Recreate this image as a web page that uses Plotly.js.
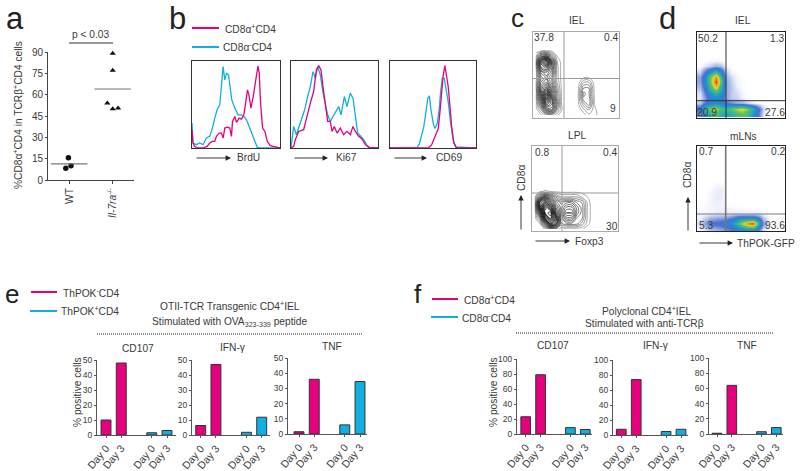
<!DOCTYPE html>
<html><head><meta charset="utf-8">
<script src="https://cdn.plot.ly/plotly-3.0.1.min.js"></script>
<style>html,body{margin:0;padding:0;background:#fff}</style></head>
<body><div id="chart" style="width:800px;height:471px"></div>
<script>
// ---------- Panel a ----------
const wtX=[0.98,1.04,0.92], wtY=[15.7,10,8.2], wtMean=11.3;
const koX=[2,2,1.876,2,2.124], koY=[89,77,54,50,50.5], koMean=64;
const aTicks=[0,15,30,45,60,75,90];
// ---------- Panel b: histograms (channel, count) ----------
const brduPinkX=[0,3,8,18,33,45,53,61,68,73,81,88,93,98,105,113,118,121,128,133,141,148,155,161,166,171,176,183,189,193,197,201,205,211,218,225,233,243,263];
const brduPinkY=[55,15,5,0,0,5,15,20,20,35,45,45,30,60,63,60,35,80,95,77,90,87,100,135,175,155,120,155,195,225,247,225,135,60,50,20,8,5,0];
const brduBlueX=[0,3,13,23,33,43,53,61,68,75,83,89,93,98,103,109,113,119,128,138,148,158,165,173,181,189,195,203,263];
const brduBlueY=[75,15,10,15,10,30,35,60,90,115,130,210,245,205,225,220,185,145,120,100,100,93,80,60,35,15,2,0,0];
const ki67PinkX=[0,8,13,23,38,48,58,68,76,83,90,96,103,110,118,123,130,138,148,158,168,178,186,193,203,213,223,233,261];
const ki67PinkY=[0,5,25,50,55,100,135,170,235,248,235,185,125,80,80,50,65,45,60,40,50,40,65,50,35,27,10,2,0];
const ki67BlueX=[0,8,16,23,33,41,50,58,66,73,80,88,96,103,110,118,126,135,143,150,160,168,178,186,193,200,208,218,228,238,261];
const ki67BlueY=[0,65,40,60,95,115,155,185,230,210,245,220,165,135,100,80,95,110,125,100,155,125,165,150,95,45,37,25,8,0,0];
const cd69PinkX=[0,116,126,136,146,151,156,161,166,171,176,181,186,193,201,260];
const cd69PinkY=[0,0,10,33,58,108,168,218,246,218,183,128,68,16,1,0];
const cd69BlueX=[0,81,89,96,102,108,114,119,124,131,136,143,149,153,158,164,169,176,183,191,198,260];
const cd69BlueY=[0,0,13,38,63,103,148,156,113,73,58,73,118,168,208,208,183,138,78,23,3,0];
// ---------- Panel c: contour densities ----------
const cIelX=[32,48,64,80,96,112,128,144,160,176,192,208,224,240,256,272];
const cIelY=[28,44,60,76,92,108,124,140,156,172,188,204,220,236,252,268];
const cIelZ=[[],[],[],
 [0,.3,.4,.2,0],[1,4,5,2.5,.4],[1.5,8,11,5.5,1],[1.5,7,8,5,1.2],[1,5,6,4.5,1.2],
 [1,4,5,3.5,1.2,0,0,0,0,.3,.3],[1.5,5,6,4,1.5,0,0,0,.1,1.6,1.6,.1],[1.5,6,8,5,2,0,0,0,.3,2.6,2.6,.2],
 [1,6,10,5.5,2.4,0,0,0,.4,3.4,2.6,.3],[.8,5,10,6.5,2.6,0,0,0,.4,3,3,.4],[.3,3.5,8,6.5,3,0,0,0,.3,1.8,3,.4],
 [0,1.5,5,5.5,2,.3,0,0,0,.8,1.6,.6],[0,.3,1.2,1.5,.5,0,0,0,0,.1,.8,.8]];
const cLplX=[28,44,60,76,92,108,124,140,156,172,188,204,220,236,252,268];
const cLplY=[26,42,58,74,90,106,122,138,154,170,186,202,218,234,250,266];
const cLplZ=[[],[],[],[],[],[],[],[],
 [0,.3,.5,.4,.3,.2,.2,.2,.2,.1],[.2,3.5,6,4,2.5,1.5,1.5,1.5,1.5,.8,.4],[.3,8,10,7,4.5,3.5,4,4,3,2.5,.7],
 [.1,8,13,10,6,4,5.5,5.5,4,2.8,.8],[0,5,12,13,7,4,6.5,6.5,4,2.8,.8],[0,2,9,12,8.5,3,5,5,3,2.6,.8],
 [0,.4,4,9,7,2.5,3,3,2.8,1.8,.6],[0,0,.5,2,2,1.2,.6,.6,.6,.5,0]];
// ---------- Panel d: pseudocolour densities ----------
const dIelX=[28,44,60,76,92,108,124,140,156,172,188,204,220,236,252,268];
const dIelY=[28,44,60,76,92,108,124,140,156,172,188,204,220,236,252,268];
const dIelZ=[[],[],[],[],[],
 [0,0,.1,.15,.1],[0,.3,.6,1,.8,.1],[.5,2,3.5,5,3,.6,.1],[1.2,3,6,9,5,1,.4,.12],
 [1.2,3,6,10,5.5,1.2,.5,.15,.05],[.8,2.4,5,7.5,4.5,1.2,.6,.25,.05],[.4,1.8,3.4,4.8,3.5,1.2,.6,.4,.15],
 [.3,1.3,2.6,3.2,2.6,1.2,.6,.5,.2,.05],[.7,2,2.8,3.4,2.8,2,1.6,1.2,1,.6,.2],
 [2.5,5,6.5,7,5.5,5,6,7,7.5,6.5,4.5,2.5,.6],[1.5,3.5,5,5.5,4.5,4,4.5,5.5,6,5.5,3.5,2,.4]];
const dLnX=[28,44,60,76,92,108,124,140,156,172,188,204,220,236,252,268];
const dLnY=[26,42,58,74,90,106,122,138,154,170,186,202,218,234,250,266];
const dLnZ=[[],[],[],[],[],[],[],
 [0,0,0,.12,.15],[0,0,.08,.2,.25],[0,0,.12,.25,.25],[0,0,.12,.2,.2],[0,.08,.12,.15,.15,.08,.08,.04,.04],
 [.08,.08,.15,.25,.25,.25,.25,.25,.25,.25,.25,.25,.08],[.2,.6,1,1.2,1.3,1.5,2,3,3.5,3.5,3.5,2.5,.8,.1],
 [.4,1.3,2,2.2,2.4,2.8,3.5,5,7,9,10,5.5,1.5,.1],[.1,.4,.8,1,1.2,1.5,2,2.5,3,3.5,3.5,2,.4]];
// ---------- Panels e, f: bars ----------
const dayPos=[0,1,3,4], dayLabels=['Day 0','Day 3','Day 0','Day 3'];
const eCd107=[10,48,1.5,3], eIfn=[6.5,47,2,12], eTnf=[1.5,36,6,34.5];
const fCd107=[23,79,8.5,6], fIfn=[8,74,5,8], fTnf=[1,64,3,8.5];
const eTicks=[0,10,20,30,40,50], fTicks=[0,20,40,60,80,100];

// ---------- Helpers ----------
const W=800,H=471, PINK='#e6007e', BLUE='#12aee2', INK='#3a3a3a', FONT='"Liberation Sans", Arial, sans-serif', TS=10.2;
const traces=[], shapes=[], annotations=[];
const layout={width:W,height:H,margin:{l:0,r:0,t:0,b:0},paper_bgcolor:'#fff',plot_bgcolor:'rgba(0,0,0,0)',showlegend:false,font:{family:FONT,color:INK},shapes,annotations};
let axN=0;
function axes(l,t,r,b,xo,yo){axN++;const xk='xaxis'+axN,yk='yaxis'+axN;
 layout[xk]=Object.assign({domain:[l/W,r/W],anchor:'y'+axN,showgrid:false,zeroline:false,fixedrange:true,showticklabels:false,ticks:''},xo);
 layout[yk]=Object.assign({domain:[1-b/H,1-t/H],anchor:'x'+axN,showgrid:false,zeroline:false,fixedrange:true,showticklabels:false,ticks:''},yo);
 return {xaxis:'x'+axN,yaxis:'y'+axN};}
function txt(x,y,t,size,o){annotations.push(Object.assign({xref:'paper',yref:'paper',x:x/W,y:1-y/H,text:t,showarrow:false,xanchor:'center',yanchor:'middle',font:{size:size||TS,color:INK,family:FONT}},o||{}));}
function seg(x0,y0,x1,y1,c,w,d){shapes.push({type:'line',xref:'paper',yref:'paper',x0:x0/W,y0:1-y0/H,x1:x1/W,y1:1-y1/H,line:{color:c,width:w,dash:d||'solid'}});}
function arrow(x0,y0,x1,y1){annotations.push({xref:'paper',yref:'paper',axref:'pixel',ayref:'pixel',x:x1/W,y:1-y1/H,ax:x0-x1,ay:y0-y1,text:'',showarrow:true,arrowhead:2,arrowsize:1.2,arrowwidth:0.9,arrowcolor:'#222'});}
function pad(z,n){return z.map(r=>{const c=r.slice();while(c.length<n)c.push(0);return c;});}
const letter=(x,y,t,s)=>txt(x,y,t,s||31,{font:{size:s||31,color:'#222',family:FONT}});

// Panel a
const aA=axes(48,52,134,180,
 {range:[0.51,2.49],showline:true,linecolor:'#444',linewidth:1,ticks:'outside',ticklen:3,tickcolor:'#444',tickvals:[1,2],ticktext:['WT','<i>Il-7ra</i><sup>-/-</sup>'],showticklabels:true,tickangle:-90,tickfont:{size:TS,color:INK}},
 {range:[0,90],showline:true,linecolor:'#444',linewidth:1,ticks:'outside',ticklen:2,tickcolor:'#444',tickvals:aTicks,showticklabels:true,tickfont:{size:10,color:INK,family:FONT}});
traces.push(Object.assign({type:'scatter',mode:'markers',x:wtX,y:wtY,marker:{symbol:'circle',size:5.5,color:'#111'},cliponaxis:false},aA));
traces.push(Object.assign({type:'scatter',mode:'markers',x:koX,y:koY,marker:{symbol:'triangle-up',size:5.5,color:'#111'},cliponaxis:false},aA));
traces.push(Object.assign({type:'scatter',mode:'lines',x:[0.58,1.42],y:[wtMean,wtMean],line:{color:'#777',width:1.2}},aA));
traces.push(Object.assign({type:'scatter',mode:'lines',x:[1.58,2.42],y:[koMean,koMean],line:{color:'#777',width:1.2}},aA));
letter(15,19,'a');
seg(69,43,113,43,'#333',1);
txt(90,35,'p &lt; 0.03');
txt(18,115,'%CD8α<sup>+</sup>CD4 in TCRβ<sup>+</sup>CD4 cells',TS,{textangle:-90});

// Panel b
function hist(l,r,xp,yp,xb,yb,xmax,ymax){
 const a=axes(l,61,r,148,{range:[0,xmax],showline:true,mirror:true,linecolor:'#333',linewidth:1},{range:[0,ymax],showline:true,mirror:true,linecolor:'#333',linewidth:1});
 traces.push(Object.assign({type:'scatter',mode:'lines',x:xb,y:yb,line:{color:BLUE,width:1.3}},a));
 traces.push(Object.assign({type:'scatter',mode:'lines',x:xp,y:yp,line:{color:PINK,width:1.3}},a));
}
hist(192,280,brduPinkX,brduPinkY,brduBlueX,brduBlueY,263,262);
hist(291,378,ki67PinkX,ki67PinkY,ki67BlueX,ki67BlueY,261,262);
hist(390,476,cd69PinkX,cd69PinkY,cd69BlueX,cd69BlueY,260,260);
letter(177,19,'b');
seg(192,28,219,28,PINK,2); seg(192,47,219,47,BLUE,2);
txt(223,29,'CD8α<sup>+</sup>CD4',TS,{xanchor:'left'}); txt(221,47,'CD8α<sup>-</sup>CD4',TS,{xanchor:'left'});
arrow(195,158,231,158); txt(248,158,'BrdU');
arrow(293,158,328,158); txt(346,158,'Ki67');
arrow(393,158,427,158); txt(449,158,'CD69');

// Panel c
function contour(t,b,l,r,vx,hy,xr,yr,xs,ys,z){
 const frame={showline:true,mirror:true,linecolor:'#aaa',linewidth:1};
 const a=axes(l,t,r,b,Object.assign({range:xr},frame),Object.assign({range:yr},frame));
 traces.push(Object.assign({type:'contour',x:xs,y:ys,z:pad(z,xs.length),autocontour:false,contours:{coloring:'lines',start:0.4,end:14,size:0.55},colorscale:[[0,'#888'],[0.2,'#444'],[0.5,'#111'],[1,'#000']],line:{width:0.7,smoothing:1.2},showscale:false,hoverinfo:'skip'},a));
 seg(vx,t,vx,b,'#999',1); seg(l,hy,r,hy,'#999',1);
}
contour(32,118,533,619,564,78.5,[24,282],[277,20],cIelX,cIelY,cIelZ);
contour(146,231,532,618,562,193,[20,280],[272,18],cLplX,cLplY,cLplZ);
letter(517,18,'c',26);
txt(577,21,'IEL'); txt(577,136,'LPL');
txt(544,38,'37.8'); txt(611,38,'0.4'); txt(613,109,'9');
txt(542,153,'0.8'); txt(610,153,'0.4'); txt(612,226,'30');
txt(521,178,'CD8α',TS,{textangle:-90}); arrow(521,231,521,195);
arrow(534,241,570,241); txt(589,241,'Foxp3');

// Panel d
const jet=[[0,'#ffffff'],[0.02,'#eef0fa'],[0.07,'#b8c6ea'],[0.2,'#4a70d0'],[0.33,'#1f8fd0'],[0.48,'#35b5a0'],[0.6,'#5cc060'],[0.74,'#d8dc30'],[0.88,'#f59a20'],[1,'#ee2a1a']];
function density(t,b,hy,vx,yr,xs,ys,z,lc){
 const frame={showline:true,mirror:true,linecolor:'#222',linewidth:1.3};
 const a=axes(697,t,785,b,Object.assign({range:[20,285]},frame),Object.assign({range:yr},frame));
 traces.push(Object.assign({type:'heatmap',x:xs,y:ys,z:pad(z,xs.length),zmin:0,zmax:10,zsmooth:'best',colorscale:jet,showscale:false,hoverinfo:'skip'},a));
 seg(vx,t,vx,b,lc,lc==='#333'?1:1.6); seg(697,hy,785,hy,lc,1);
}
density(32,118,100.7,726,[280,20],dIelX,dIelY,dIelZ,'#333');
density(146,231,214,725.7,[272,17],dLnX,dLnY,dLnZ,'#777');
letter(667,19,'d');
txt(743,21,'IEL'); txt(743,137,'mLNs');
txt(708,39,'50.2'); txt(777,39,'1.3'); txt(707,113,'20.9'); txt(775,113,'27.6');
txt(706,152,'0.7'); txt(778,152,'0.2'); txt(706,225,'5.3'); txt(775,225,'93.6');
txt(688,175,'CD8α',TS,{textangle:-90}); arrow(688,232,688,197);
arrow(698,243,733,243); txt(766,243,'ThPOK-GFP');

// Panels e, f
function bars(l,r,t,b,c0,c4,vals,ticks,ymax){
 const unit=(c4-c0)/4;
 const a=axes(l,t,r,b,
  {range:[(l-c0)/unit,(r-c0)/unit],showline:true,linecolor:'#555',linewidth:1,ticks:'outside',ticklen:2,tickcolor:'#555',tickvals:dayPos,ticktext:dayLabels,showticklabels:true,tickangle:-50,tickfont:{size:10.5,color:INK}},
  {range:[0,ymax],showline:true,linecolor:'#555',linewidth:1,ticks:'outside',ticklen:2,tickcolor:'#555',tickvals:ticks,showticklabels:true,tickfont:{size:8.5,color:INK,family:FONT}});
 traces.push(Object.assign({type:'bar',x:dayPos,y:vals,width:0.65,marker:{color:[PINK,PINK,BLUE,BLUE],line:{color:'#333',width:1}}},a));
}
bars(97,176,360,435,106,167,eCd107,eTicks,50);
bars(192,270,360,435.3,200.7,261.7,eIfn,eTicks,50);
bars(288,367,358,434,299,360,eTnf,eTicks,50);
bars(517,592,359,434,525.7,585.3,fCd107,fTicks,100);
bars(613,688,360,435.3,621.3,681,fIfn,fTicks,100);
bars(709,783,358,434,717,776.3,fTnf,fTicks,100);
letter(12,294,'e',26);
seg(31,292,57,292,PINK,2); seg(30,311,57,311,BLUE,2);
txt(61,293,'ThPOK<sup>-</sup>CD4',TS,{xanchor:'left'}); txt(59,311,'ThPOK<sup>+</sup>CD4',TS,{xanchor:'left'});
txt(230,306,'OTII-TCR Transgenic CD4<sup>+</sup>IEL'); txt(230,322,'Stimulated with OVA<sub>323-339</sub> peptide');
seg(97,334,362,334,'#222',1,'1px,1px');
txt(138,348,'CD107'); txt(233,347,'IFN-γ'); txt(332,346,'TNF');
txt(77,392,'% positive cells',TS,{textangle:-90});
letter(418,294,'f',26);
seg(432,299,458,299,PINK,2); seg(431,317,458,317,BLUE,2);
txt(462,300,'CD8α<sup>+</sup>CD4',TS,{xanchor:'left'}); txt(460,318,'CD8α<sup>-</sup>CD4',TS,{xanchor:'left'});
txt(646,311,'Polyclonal CD4<sup>+</sup>IEL'); txt(644,323,'Stimulated with anti-TCRβ');
seg(516,333,773,333,'#222',1,'1px,1px');
txt(553,345,'CD107'); txt(656,345,'IFN-γ'); txt(747,345,'TNF');
txt(493,392,'% positive cells',TS,{textangle:-90});

Plotly.newPlot('chart',traces,layout,{displayModeBar:false,staticPlot:true});
</script></body></html>
